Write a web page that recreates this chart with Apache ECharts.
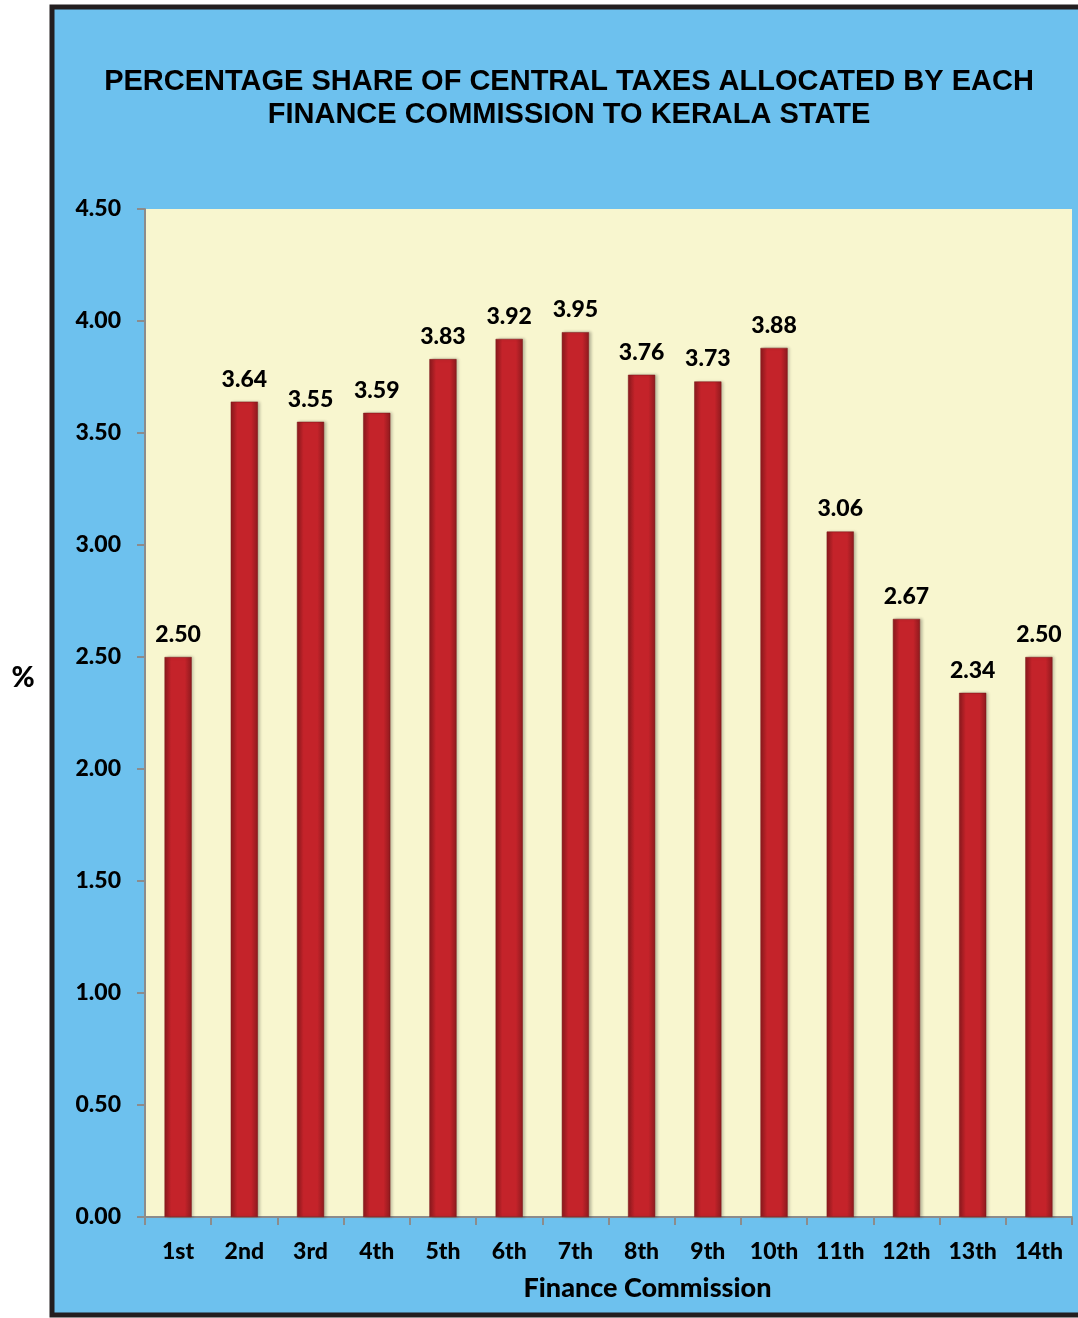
<!DOCTYPE html>
<html>
<head>
<meta charset="utf-8">
<script src="https://cdn.jsdelivr.net/npm/echarts@6/dist/echarts.min.js"></script>
<style>
  html, body { margin: 0; padding: 0; background: #fff; }
  #chart { width: 1078px; height: 1318px; }
</style>
</head>
<body>
<div id="chart"></div>
<script>
// Finance Commission rounds
const commissions = ['1st', '2nd', '3rd', '4th', '5th', '6th', '7th', '8th', '9th', '10th', '11th', '12th', '13th', '14th']
// Kerala's share of central taxes (%)
const shares = [2.50, 3.64, 3.55, 3.59, 3.83, 3.92, 3.95, 3.76, 3.73, 3.88, 3.06, 2.67, 2.34, 2.50]

const labelFont = 'Lato, "Open Sans", sans-serif'

const chart = echarts.init(document.getElementById('chart'))

const barColor = new echarts.graphic.LinearGradient(0, 0, 1, 0, [
  { offset: 0, color: '#8e1a1e' },
  { offset: 0.25, color: '#c4232a' },
  { offset: 0.75, color: '#c4232a' },
  { offset: 1, color: '#8e1a1e' }
])

chart.setOption({
  animation: false,
  backgroundColor: '#ffffff',
  graphic: [
    // blue panel with dark frame
    {
      type: 'rect',
      z: -10,
      shape: { x: 52, y: 7, width: 1040, height: 1308 },
      style: { fill: '#6dc1ee', stroke: '#231f20', lineWidth: 5 }
    },
    {
      type: 'text',
      z: 10,
      style: {
        text: 'PERCENTAGE SHARE OF CENTRAL TAXES ALLOCATED BY EACH\nFINANCE COMMISSION TO KERALA STATE',
        x: 569,
        y: 65,
        textAlign: 'center',
        font: 'bold 29px "Liberation Sans", Arial, sans-serif',
        lineHeight: 33,
        fill: '#000'
      }
    },
    {
      type: 'text',
      z: 10,
      style: {
        text: '%',
        x: 23,
        y: 678,
        textAlign: 'center',
        textVerticalAlign: 'middle',
        font: '900 28px ' + labelFont,
        fill: '#000'
      }
    }
  ],
  grid: {
    left: 145,
    right: 6,
    top: 209,
    bottom: 101,
    show: true,
    backgroundColor: '#f8f6cf',
    borderWidth: 0
  },
  xAxis: {
    type: 'category',
    data: commissions,
    name: 'Finance Commission',
    nameLocation: 'middle',
    nameGap: 58,
    nameTextStyle: { fontFamily: labelFont, fontWeight: 900, fontSize: 27, color: '#000', padding: [0, 0, 0, 78] },
    axisLine: { lineStyle: { color: '#8c8c8c', width: 2 } },
    axisTick: { show: true, length: 8, lineStyle: { color: '#8c8c8c', width: 2 } },
    axisLabel: { fontFamily: labelFont, fontWeight: 900, fontSize: 23, color: '#000', margin: 23 }
  },
  yAxis: {
    type: 'value',
    min: 0,
    max: 4.5,
    interval: 0.5,
    axisLine: { show: true, lineStyle: { color: '#8c8c8c', width: 2 } },
    axisTick: { show: true, length: 8, lineStyle: { color: '#8c8c8c', width: 2 } },
    splitLine: { show: false },
    axisLabel: {
      fontFamily: labelFont,
      fontWeight: 900,
      fontSize: 23,
      color: '#000',
      margin: 24,
      formatter: (v) => v.toFixed(2)
    }
  },
  series: [
    {
      type: 'bar',
      data: shares,
      barWidth: '41%',
      itemStyle: {
        color: barColor,
        borderColor: '#7a1418',
        borderWidth: 0.5,
        shadowColor: 'rgba(0,0,0,0.25)',
        shadowBlur: 3,
        shadowOffsetX: 2
      },
      label: {
        show: true,
        position: 'top',
        distance: 11,
        fontFamily: labelFont,
        fontWeight: 900,
        fontSize: 23,
        color: '#000',
        formatter: (p) => p.value.toFixed(2)
      }
    }
  ]
})
</script>
</body>
</html>
